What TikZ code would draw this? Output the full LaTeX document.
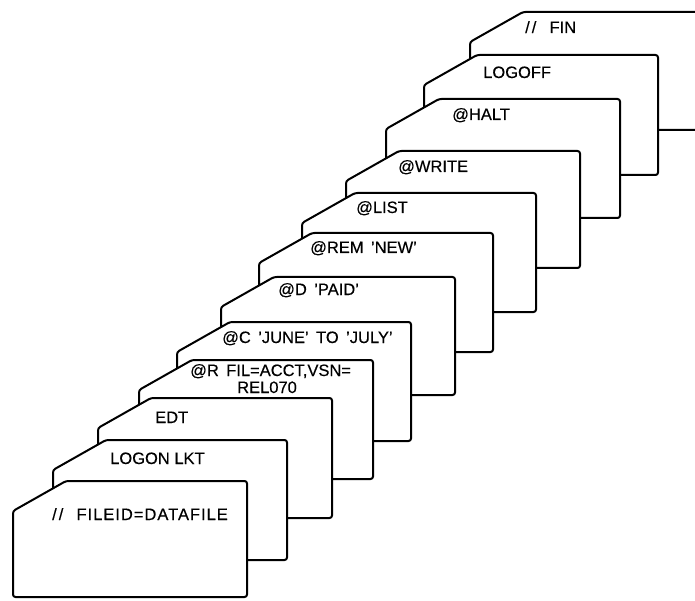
\documentclass[tikz,border=0pt]{standalone}
\usepackage{fontspec}
\setmainfont[FakeBold=0.3]{Liberation Sans}
\begin{document}
\begin{tikzpicture}[x=1pt,y=-1pt,
  cardline/.style={draw=black,line width=2pt,fill=white,rounded corners=2.5pt,line join=round},
  lbl/.style={anchor=base west,inner sep=0pt,font=\fontsize{16.5}{18}\selectfont}]
\clip (0,0) rectangle (695,601);
\fill[white] (0,0) rectangle (695,601);
% cards, back to front: left/top/bottom
\foreach \l/\t/\b in {470/12/130, 424/55/175, 386/99/218, 346/151/268, 302/193/312,
  259/233/352, 221/277/395, 177/322/441, 139/360/479, 98/398/518, 53/440/560, 13/481/597}{
  \draw[cardline] (\l,\b) -- (\l,\t+30) -- (\l+53,\t) -- (\l+234,\t) -- (\l+234,\b) -- cycle;
}
\node[lbl] (fin)    at (525,33)  {/\kern2pt/\hspace{0.8em}FIN};
\node[lbl] (logoff) at (483,78)  {LOGOFF};
\node[lbl] (halt)   at (452,120) {@HALT};
\node[lbl] (write)  at (398,172) {@WRITE};
\node[lbl] (list)   at (356,213) {@LIST};
\node[lbl] (rem)    at (310,253) {@REM\hspace{0.45em}’NEW’};
\node[lbl] (d)      at (278,295) {@D\hspace{0.45em}’PAID’};
\node[lbl] (c)      at (222,343) {@C\hspace{0.45em}’JUNE’\hspace{0.45em}TO\hspace{0.45em}’JULY’};
\node[lbl] (r1)     at (190,376) {@R\hspace{0.45em}FIL=ACCT,VSN=};
\node[lbl] (r2)     at (237,393) {REL070};
\node[lbl] (edt)    at (155,423) {EDT};
\node[lbl] (logon)  at (110,464) {LOGON LKT};
\node[lbl] (fileid) at (52,520)  {/\kern2pt/\hspace{0.8em}{\addfontfeature{LetterSpace=6}FILEID=DATAFILE}};
\end{tikzpicture}
\end{document}
